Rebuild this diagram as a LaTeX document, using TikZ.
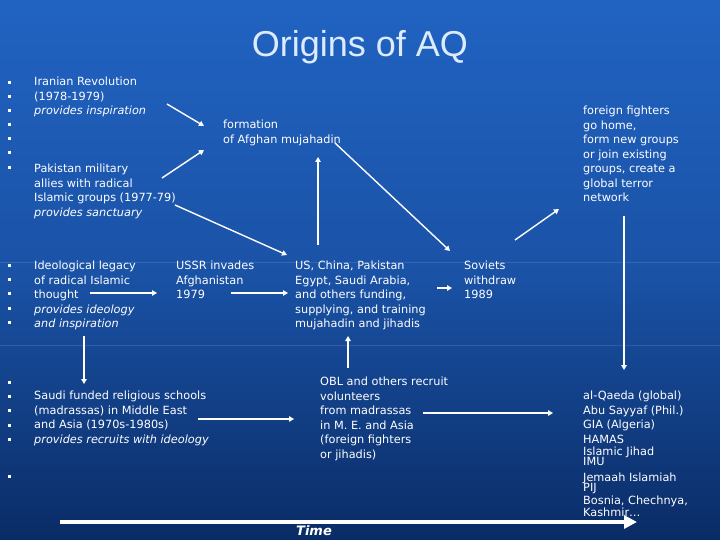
\documentclass[tikz,border=0pt]{standalone}
\usepackage{fontspec}
\setmainfont{DejaVu Sans}
\newfontfamily\titlefont{Liberation Sans}
\usetikzlibrary{arrows.meta}
\definecolor{bgtop}{HTML}{2163C2}
\definecolor{bgbot}{HTML}{0A2C66}
\definecolor{titlec}{HTML}{DCEBFF}
\tikzset{
 txt/.style={anchor=north west,inner sep=0,text=white,align=left,font=\fontsize{11.3pt}{14.5pt}\selectfont},
 arr/.style={draw=white,line width=1.4pt,-{Triangle[width=5.5pt,length=5pt]}},
 bul/.style={fill=white,draw=none}
}
\newcommand{\tl}[2]{(#1,#2-8.6)}
\begin{document}
\begin{tikzpicture}[x=1pt,y=-1pt]
\useasboundingbox (0,0) rectangle (720,540);
\shade[top color=bgtop,bottom color=bgbot,middle color=bgtop!70!bgbot] (0,0) rectangle (720,540);
\draw[white,opacity=0.12,line width=0.6pt] (0,262) -- (720,262) (0,345) -- (720,345);
\node[anchor=center,text=titlec,font=\titlefont\fontsize{36pt}{40pt}\selectfont] (title) at (360,47) {Origins of AQ};
\foreach \y in {83,97,111,125,139,153,168,265,279,293,308,322,382,396,410,425,439,476}
  \fill[bul] (7.5,\y-1.5) rectangle (10.5,\y+1.5);
\node[txt] (iran) at \tl{34}{84} {\strut Iranian Revolution\\(1978-1979)\\\textit{provides inspiration}};
\node[txt] (form) at \tl{223}{127} {\strut formation\\of Afghan mujahadin};
\node[txt] (ff) at \tl{583}{113} {\strut foreign fighters\\go home,\\form new groups\\or join existing\\groups, create a\\global terror\\network};
\node[txt] (pak) at \tl{34}{171} {\strut Pakistan military\\allies with radical\\Islamic groups (1977-79)\\\textit{provides sanctuary}};
\node[txt] (ideo) at \tl{34}{268} {\strut Ideological legacy\\of radical Islamic\\thought\\\textit{provides ideology}\\\textit{and inspiration}};
\node[txt] (ussr) at \tl{176}{268} {\strut USSR invades\\Afghanistan\\1979};
\node[txt] (us) at \tl{295}{268} {\strut US, China, Pakistan\\Egypt, Saudi Arabia,\\and others funding,\\supplying, and training\\mujahadin and jihadis};
\node[txt] (sov) at \tl{464}{268} {\strut Soviets\\withdraw\\1989};
\node[txt] (obl) at \tl{320}{384} {\strut OBL and others recruit\\volunteers\\from madrassas\\in M. E. and Asia\\(foreign fighters\\or jihadis)};
\node[txt] (saudi) at \tl{34}{398} {\strut Saudi funded religious schools\\(madrassas) in Middle East\\and Asia (1970s-1980s)\\\textit{provides recruits with ideology}};
\node[txt] (aq) at \tl{583}{398} {\strut al-Qaeda (global)\\Abu Sayyaf (Phil.)\\GIA (Algeria)\\HAMAS\\[-2.5pt]Islamic Jihad\\[-4pt]IMU\\[1pt]Jemaah Islamiah\\[-4pt]PIJ\\[-1.5pt]Bosnia, Chechnya,\\[-3pt]Kashmir\ldots};
\node[anchor=base,inner sep=0,text=white,font=\bfseries\itshape\fontsize{13pt}{15pt}\selectfont] (time) at (314,535) {Time};
% endpoints
\coordinate (a1) at (167,104); \coordinate (b1) at (204,126);
\coordinate (a2) at (162,178); \coordinate (b2) at (204,150);
\coordinate (a3) at (175,205); \coordinate (b3) at (287,255);
\coordinate (a4) at (90,293);  \coordinate (b4) at (157,293);
\coordinate (a5) at (231,293); \coordinate (b5) at (288,293);
\coordinate (a6) at (318,245); \coordinate (b6) at (318,157);
\coordinate (a7) at (335,143); \coordinate (b7) at (450,251);
\coordinate (a8) at (437,288); \coordinate (b8) at (452,288);
\coordinate (a9) at (515,240); \coordinate (b9) at (559,209);
\coordinate (a10) at (624,216); \coordinate (b10) at (624,370);
\coordinate (a11) at (84,336); \coordinate (b11) at (84,384);
\coordinate (a12) at (348,368); \coordinate (b12) at (348,336);
\coordinate (a13) at (198,419); \coordinate (b13) at (294,419);
\coordinate (a14) at (423,413); \coordinate (b14) at (553,413);
\coordinate (t1) at (60,522); \coordinate (t2) at (637,522);
\foreach \i in {1,...,14} \draw[arr] (a\i) -- (b\i);
\draw[draw=white,line width=4pt,-{Triangle[width=13pt,length=13pt]}] (t1) -- (t2);
\end{tikzpicture}
\end{document}
